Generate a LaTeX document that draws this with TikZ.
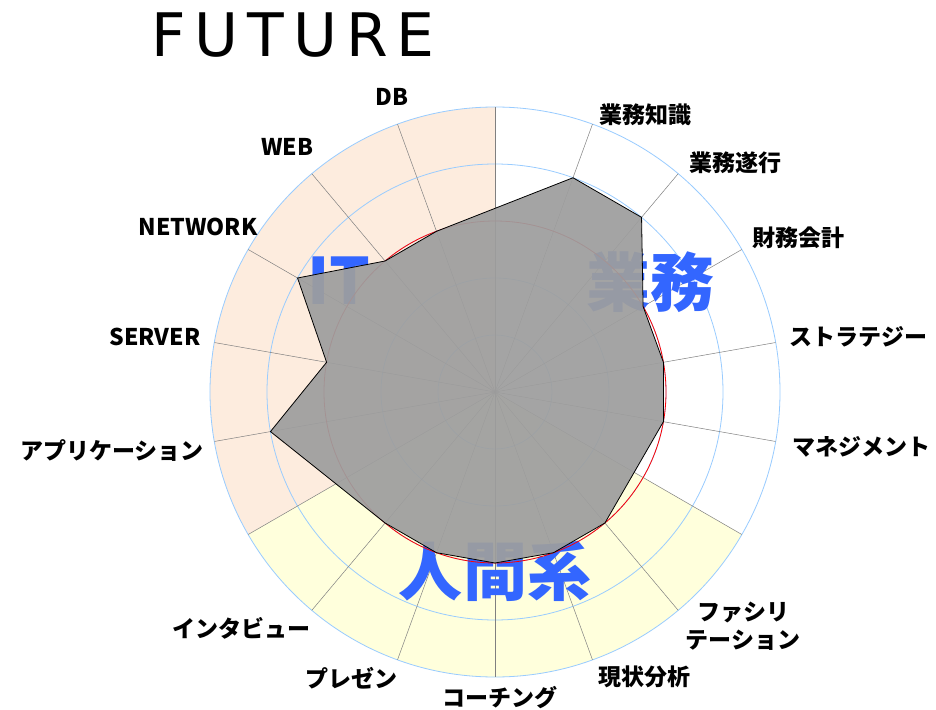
\documentclass[tikz,border=0pt]{standalone}
\usepackage{fontspec}
\setmainfont{DejaVu Sans}
\newfontfamily\jpfont{Noto Sans CJK JP}
\newfontfamily\titlefont[LetterSpace=15]{DejaVu Sans}
\definecolor{itfill}{RGB}{253,236,222}
\definecolor{humanfill}{RGB}{255,255,220}
\definecolor{ringblue}{RGB}{153,204,255}
\definecolor{bigblue}{RGB}{51,102,255}
\definecolor{datagray}{RGB}{158,158,158}
\begin{document}
\begin{tikzpicture}[x=1pt,y=1pt,
		ring/.style={ringblue, line width=0.8pt},
		spoke/.style={gray, line width=0.5pt},
		axislabel/.style={font=\jpfont\bfseries\fontsize{23}{28}\selectfont, inner sep=0pt, align=center},
		groupname/.style={font=\jpfont\bfseries\fontsize{64}{64}\selectfont, text=bigblue, inner sep=0pt}]
			\useasboundingbox[fill=white] (-495,-317) rectangle (441,392);
			\fill[itfill] (0,0) -- (90:285) arc (90:210:285) -- cycle;
			\fill[humanfill] (0,0) -- (210:285) arc (210:330:285) -- cycle;
			\foreach \r in {1,...,5}{
				\draw[ring] (0,0) circle (\r*57);
			}
			\foreach \a in {10,30,...,350}{
				\draw[spoke] (0,0) -- (\a:285);
			}
			\node[groupname] (it) at (-156,111) {IT};
			\node[groupname] (gyomu) at (155,110) {業務};
			\node[groupname] (ningen) at (0,-179) {人間系};
			\draw[red, line width=0.8pt] (0,0) circle (171);
			\filldraw[fill=datagray, fill opacity=0.93, draw=black, line width=0.8pt] %
			(70:228) -- (50:228) -- (30:171) -- (10:171) -- (-10:171) -- (-50:171) -- (-70:171) -- (-90:171) %
			-- (-110:171) -- (-130:171) -- (190:228) -- (170:171) -- (150:228) -- (130:171) -- (110:171) -- cycle;
			\foreach \x/\y/\txt [count=\i] in {150/277/業務知識, 240/229/業務遂行, 303/154/財務会計,
				363/55/ストラテジー, 366/-55/マネジメント, 248/-234/{ファシリ\\テーション},
				149/-285/現状分析, 5/-306/コーチング, -143/-286/プレゼン, -253/-236/インタビュー,
				-383/-59/アプリケーション, -340/55/SERVER, -297/165/NETWORK, -208/245/WEB, -103/295/DB}{
				\node[axislabel] (lab\i) at (\x,\y) {\txt};
			}
			\node[font=\titlefont\fontsize{60}{60}\selectfont, inner sep=0pt] (title) at (-202,357) {FUTURE};
\end{tikzpicture}
\end{document}
